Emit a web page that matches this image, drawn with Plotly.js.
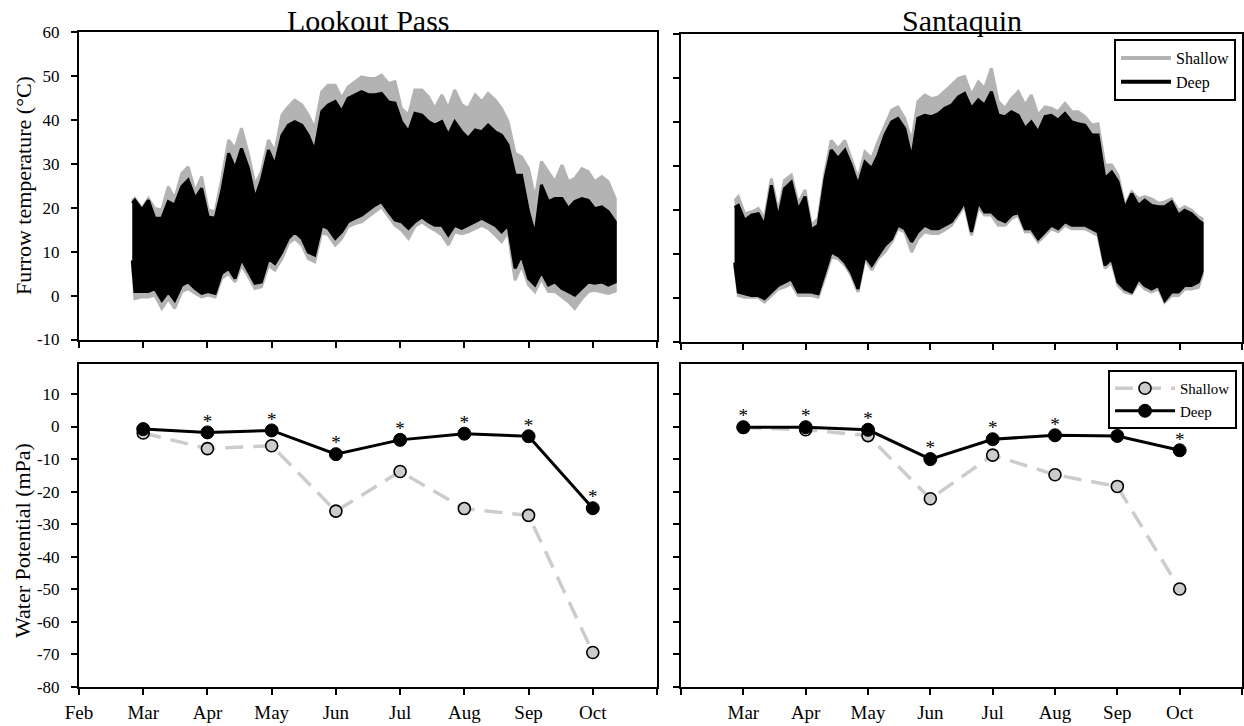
<!DOCTYPE html>
<html><head><meta charset="utf-8">
<script src="https://cdn.plot.ly/plotly-3.0.1.min.js"></script>
<style>html,body{margin:0;padding:0;background:#fff}#chart{width:1244px;height:726px}</style>
</head><body><div id="chart"></div>
<script>
// ---------- data ----------
const monthTicks = [0,1,2,3,4,5,6,7,8,9];
const monthLabelsLeft = ['Feb','Mar','Apr','May','Jun','Jul','Aug','Sep','Oct',''];
const monthLabelsRight = ['','Mar','Apr','May','Jun','Jul','Aug','Sep','Oct',''];
const sampleMonths = [1,2,3,4,5,6,7,8];

const tempTicks = [-10,0,10,20,30,40,50,60];
const tempTickLabels = ['-10','0','10','20','30','40','50','60'];
const wpTicks = [-80,-70,-60,-50,-40,-30,-20,-10,0,10];
const wpTickLabels = ['-80','-70','-60','-50','-40','-30','-20','-10','0','10'];

const lpShallowWP = [-2.0,-6.8,-5.9,-26.0,-13.8,-25.2,-27.3,-69.4];
const lpDeepWP    = [-0.8,-1.8,-1.2,-8.5,-4.1,-2.2,-3.0,-25.1];
const lpSig       = ['','*','*','*','*','*','*','*'];
const sqShallowWP = [-0.3,-1.0,-2.8,-22.2,-8.8,-14.8,-18.4,-49.9];
const sqDeepWP    = [-0.2,-0.2,-1.0,-10.0,-3.9,-2.7,-2.9,-7.3];
const sqSig       = ['*','*','*','*','*','*','*','*'];

// furrow temperature envelopes (month index: 0 = Feb ... 8 = Oct)
const lpTempX = [0.83,0.87,0.98,1.08,1.18,1.29,1.39,1.49,1.60,1.70,1.81,1.91,2.01,2.12,2.22,2.33,2.43,2.53,2.64,2.74,2.84,2.95,3.05,3.16,3.26,3.36,3.47,3.57,3.67,3.78,3.88,3.99,4.09,4.19,4.30,4.40,4.51,4.61,4.71,4.82,4.92,5.02,5.13,5.23,5.34,5.44,5.54,5.65,5.75,5.85,5.96,6.06,6.17,6.27,6.37,6.48,6.58,6.68,6.79,6.89,7.00,7.10,7.20,7.31,7.41,7.52,7.62,7.72,7.83,7.93,8.03,8.14,8.24,8.35];
const lpDeepMax = [21.0,21.7,19.5,21.7,17.6,17.6,21.4,20.6,24.8,26.3,22.1,24.4,17.9,17.6,23.6,32.4,28.9,33.5,28.9,22.1,26.3,33.1,29.7,36.5,38.8,39.6,38.8,36.5,33.0,41.9,43.4,44.2,41.9,44.9,45.7,46.4,45.7,
  45.7,46.0,44.1,43.8,39.6,37.3,41.5,41.1,39.6,38.8,39.6,36.5,39.6,37.3,35.8,37.7,37.3,38.8,37.3,36.5,34.3,27.4,27.4,19.1,13.8,25.2,21.4,22.1,22.1,19.8,21.4,22.1,21.7,19.8,20.2,19.1,16.8];
const lpShallowMax = [21.5,22.1,19.8,22.1,19.8,19.5,24.8,22.1,27.8,29.3,23.6,27.1,19.5,19.1,26.3,35.4,33.5,38.1,32.0,25.2,28.2,35.4,32.7,41.1,43.0,44.5,43.4,41.1,38.0,46.4,47.9,47.9,44.9,47.5,48.7,49.8,49.4,
  49.4,50.2,48.3,48.7,42.6,41.1,46.8,46.8,45.3,42.6,45.7,42.6,46.8,43.4,42.6,45.7,44.1,46.0,44.5,42.6,39.6,32.4,31.6,28.9,22.1,30.5,28.2,25.9,29.7,25.9,26.7,28.9,28.2,25.9,27.1,25.9,22.1];
const lpDeepMin = [8.0,0.9,0.9,0.9,1.6,-1.1,0.9,-1.1,2.4,3.1,1.6,0.5,0.9,0.5,5.0,6.2,3.9,8.4,5.4,2.8,3.1,8.4,7.3,9.9,13.0,14.5,13.0,9.9,9.2,16.0,15.3,13.0,14.5,16.8,17.6,18.3,19.5,
  20.6,21.4,19.1,17.2,16.8,15.3,16.8,17.9,16.8,16.0,16.0,13.8,16.0,15.3,16.0,16.8,17.6,16.8,16.0,14.5,16.0,6.2,9.2,3.9,2.4,5.4,2.4,3.1,1.6,0.9,0.1,1.6,3.1,2.8,3.1,2.4,3.1];
const lpShallowMin = [7.5,-0.7,-0.3,-0.3,0.1,-2.9,-0.7,-2.9,0.9,1.6,0.5,-0.3,0.1,-0.3,3.9,5.0,3.1,6.9,4.3,1.6,2.0,6.9,5.8,8.4,11.9,13.0,11.5,8.4,7.7,14.5,13.8,11.5,13.0,15.7,16.4,16.8,18.0,
  19.1,20.2,17.9,16.0,14.9,13.0,15.7,16.8,15.7,14.9,13.8,11.5,14.5,14.1,14.5,15.3,16.0,15.3,13.8,12.3,14.5,3.5,7.0,2.4,0.9,3.9,0.9,0.9,-0.3,-1.4,-2.9,-0.7,0.9,1.2,0.9,0.5,1.0];

const sqTempX = [0.86,0.92,1.02,1.13,1.24,1.34,1.45,1.56,1.66,1.77,1.88,1.99,2.09,2.20,2.31,2.41,2.52,2.63,2.73,2.84,2.95,3.06,3.16,3.27,3.38,3.48,3.59,3.70,3.80,3.91,4.02,4.13,4.23,4.34,4.45,4.55,4.66,4.77,4.87,4.98,5.09,5.20,5.30,5.41,5.52,5.62,5.73,5.84,5.94,6.05,6.16,6.27,6.37,6.48,6.59,6.69,6.80,6.91,7.01,7.12,7.23,7.34,7.44,7.55,7.66,7.76,7.87,7.98,8.08,8.19,8.30,8.36];
const sqDeepMax = [20.5,21.0,17.6,18.8,19.1,16.5,25.6,18.0,24.8,26.3,20.0,23.0,15.4,16.5,27.1,33.6,31.7,33.6,30.2,25.6,30.9,29.4,32.4,37.0,40.0,40.8,38.5,31.7,40.8,41.5,41.2,41.9,43.1,43.8,45.7,46.5,43.1,
  45.0,43.8,46.9,41.5,41.2,42.3,41.5,38.5,40.0,37.7,41.2,41.5,40.4,41.9,40.0,39.6,39.3,37.0,37.0,27.1,28.6,26.4,20.3,23.7,21.0,22.2,21.0,20.7,20.7,21.8,18.8,19.9,19.1,17.6,17.0];
const sqShallowMax = [22.0,23.0,19.1,19.5,20.3,18.0,27.1,19.5,26.7,27.9,21.5,24.5,16.5,18.0,28.6,35.8,33.9,35.8,31.7,27.1,33.2,31.7,35.5,39.3,42.7,43.4,40.8,35.5,44.6,46.1,45.3,45.7,46.9,48.4,49.9,50.3,46.1,
  49.1,47.6,52.2,44.6,43.1,45.3,46.9,43.8,46.1,41.5,43.4,43.1,42.3,44.2,42.3,42.3,41.2,39.3,39.6,30.2,30.2,27.9,21.0,24.1,22.5,23.0,22.5,21.5,21.8,22.5,19.9,20.7,19.9,18.4,18.0];
const sqDeepMin = [8.0,1.3,0.9,0.5,0.5,-0.2,1.3,2.8,3.6,4.3,1.3,1.3,1.3,0.9,5.8,10.4,9.6,8.1,5.8,2.0,9.6,7.4,9.6,11.9,13.4,16.5,15.7,12.7,15.0,16.5,15.7,15.7,16.5,17.3,19.5,21.8,15.0,
  21.8,19.5,19.5,18.0,17.3,18.8,19.5,15.7,15.7,13.4,15.0,16.5,15.7,17.3,16.5,16.5,16.5,15.7,15.0,7.4,8.9,3.6,2.0,1.3,4.3,2.8,2.0,2.8,-0.6,1.3,1.3,2.8,2.8,3.6,6.0];
const sqShallowMin = [7.5,0.5,0.1,0.1,0.1,-1.0,0.5,2.0,2.4,3.2,0.5,0.5,0.5,0.1,4.7,9.2,8.9,7.4,5.1,1.3,8.9,6.3,8.9,10.4,12.7,15.7,15.0,10.4,13.4,15.0,14.6,14.6,15.4,16.5,18.8,21.0,14.2,
  20.6,18.8,18.8,16.5,16.5,18.0,18.8,15.0,15.0,12.7,14.2,15.7,15.0,16.5,15.7,15.7,15.7,15.0,14.2,6.7,8.1,2.8,1.3,0.9,3.6,2.0,1.3,2.0,-1.0,0.5,0.5,2.0,2.0,2.4,5.0];

// ---------- styling ----------
const FONT = '"Liberation Serif","Times New Roman",serif';
const SHALLOW_T = '#b3b3b3';
const SHALLOW_W = '#cccccc';

function band(x, hi, lo, color, xa, ya) {
  return {
    type: 'scatter', mode: 'lines', xaxis: xa, yaxis: ya,
    x: x.concat(x.slice().reverse()),
    y: hi.concat(lo.slice().reverse()),
    fill: 'toself', fillcolor: color,
    line: {color: color, width: 3},
    showlegend: false, hoverinfo: 'skip'
  };
}

function wpTraces(y1, y2, sig, xa, ya, showLeg) {
  return [
    {type:'scatter', mode:'lines+markers', xaxis:xa, yaxis:ya, x:sampleMonths, y:y1, name:'Shallow',
     legend:'legend2', showlegend:showLeg,
     line:{color:SHALLOW_W, width:3.5, dash:'18px,10px'},
     marker:{size:12, color:SHALLOW_W, line:{color:'#000', width:1.6}}},
    {type:'scatter', mode:'lines+markers', xaxis:xa, yaxis:ya, x:sampleMonths, y:y2, name:'Deep',
     legend:'legend2', showlegend:showLeg,
     line:{color:'#000', width:3},
     marker:{size:13, color:'#000', line:{color:'#000', width:1}}},
    {type:'scatter', mode:'text', xaxis:xa, yaxis:ya, x:sampleMonths, y:y2, text:sig,
     textposition:'top center', textfont:{family:FONT, size:19, color:'#000'},
     showlegend:false, hoverinfo:'skip'}
  ];
}

const data = [
  band(lpTempX, lpShallowMax, lpShallowMin, SHALLOW_T, 'x', 'y'),
  band(lpTempX, lpDeepMax, lpDeepMin, '#000', 'x', 'y'),
  band(sqTempX, sqShallowMax, sqShallowMin, SHALLOW_T, 'x2', 'y2'),
  band(sqTempX, sqDeepMax, sqDeepMin, '#000', 'x2', 'y2'),
  {type:'scatter', mode:'lines', xaxis:'x2', yaxis:'y2', x:[null], y:[null], name:'Shallow',
   legend:'legend', line:{color:SHALLOW_T, width:4}},
  {type:'scatter', mode:'lines', xaxis:'x2', yaxis:'y2', x:[null], y:[null], name:'Deep',
   legend:'legend', line:{color:'#000', width:4}},
  ...wpTraces(lpShallowWP, lpDeepWP, lpSig, 'x3', 'y3', false),
  ...wpTraces(sqShallowWP, sqDeepWP, sqSig, 'x4', 'y4', true)
];

const W = 1244, H = 726;
const px = v => v / W;
const py = v => 1 - v / H;

function xAxis(domain, labels, showLabels) {
  return {
    domain: domain, range: [0, 9], tickmode: 'array', tickvals: monthTicks, ticktext: labels,
    showticklabels: showLabels, ticks: 'outside', ticklen: 6, tickwidth: 2, tickcolor: '#000',
    showline: true, linewidth: 2, linecolor: '#000', mirror: true, showgrid: false, zeroline: false,
    tickfont: {family: FONT, size: 19, color: '#000'}, ticklabelstandoff: 1, fixedrange: true
  };
}
function yAxis(domain, range, vals, labels, showLabels, anchor) {
  return {
    domain: domain, range: range, tickmode: 'array', tickvals: vals, ticktext: labels, anchor: anchor,
    showticklabels: showLabels, ticks: 'outside', ticklen: 6, tickwidth: 2, tickcolor: '#000',
    showline: true, linewidth: 2, linecolor: '#000', mirror: true, showgrid: false, zeroline: false,
    tickfont: {family: FONT, size: 17, color: '#000'}, ticklabelstandoff: 8, fixedrange: true
  };
}

const leftX = [px(79), px(657)];
const rightX = [px(681), px(1242)];

const layout = {
  width: W, height: H,
  margin: {l:0, r:0, t:0, b:0},
  paper_bgcolor: '#fff', plot_bgcolor: '#fff',
  font: {family: FONT, color: '#000'},
  xaxis:  Object.assign(xAxis(leftX, monthLabelsLeft, false), {anchor:'y'}),
  yaxis:  yAxis([py(339.5), py(32)], [-10, 60], tempTicks, tempTickLabels, true, 'x'),
  xaxis2: Object.assign(xAxis(rightX, monthLabelsRight, false), {anchor:'y2'}),
  yaxis2: yAxis([py(341.7), py(34)], [-10, 60], tempTicks, tempTickLabels, false, 'x2'),
  xaxis3: Object.assign(xAxis(leftX, monthLabelsLeft, true), {anchor:'y3'}),
  yaxis3: yAxis([py(687), py(364)], [-80, 19.2], wpTicks, wpTickLabels, true, 'x3'),
  xaxis4: Object.assign(xAxis(rightX, monthLabelsRight, true), {anchor:'y4'}),
  yaxis4: yAxis([py(687), py(364)], [-80, 19.2], wpTicks, wpTickLabels, false, 'x4'),
  legend: {
    x: px(1236), xanchor: 'right', y: py(39), yanchor: 'top',
    bgcolor: '#fff', bordercolor: '#000', borderwidth: 2,
    font: {family: FONT, size: 16, color: '#000'}, itemwidth: 50, tracegroupgap: 0
  },
  legend2: {
    x: px(1237), xanchor: 'right', y: py(370), yanchor: 'top',
    bgcolor: '#fff', bordercolor: '#000', borderwidth: 2,
    font: {family: FONT, size: 15, color: '#000'}, itemwidth: 60, tracegroupgap: 0
  },
  showlegend: true,
  annotations: [
    {text: 'Lookout Pass', x: px(368), y: py(20), xref: 'paper', yref: 'paper',
     xanchor: 'center', yanchor: 'middle', showarrow: false, font: {family: FONT, size: 30, color: '#000'}},
    {text: 'Santaquin', x: px(962), y: py(20), xref: 'paper', yref: 'paper',
     xanchor: 'center', yanchor: 'middle', showarrow: false, font: {family: FONT, size: 30, color: '#000'}},
    {text: 'Furrow temperature (°C)', x: px(23), y: py(186), xref: 'paper', yref: 'paper',
     xanchor: 'center', yanchor: 'middle', textangle: -90, showarrow: false, font: {family: FONT, size: 22, color: '#000'}},
    {text: 'Water Potential (mPa)', x: px(22), y: py(541), xref: 'paper', yref: 'paper',
     xanchor: 'center', yanchor: 'middle', textangle: -90, showarrow: false, font: {family: FONT, size: 22, color: '#000'}}
  ]
};

Plotly.newPlot('chart', data, layout, {displayModeBar: false, staticPlot: true});
</script>
</body></html>
